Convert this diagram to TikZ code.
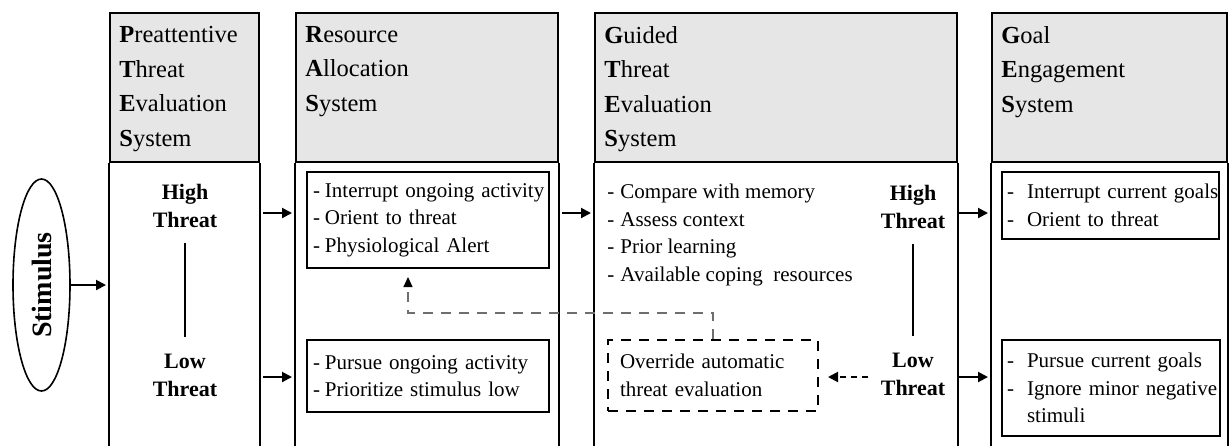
\documentclass[tikz,border=0pt]{standalone}
\usepackage{fontspec}
\setmainfont{Liberation Serif}
\usepackage{graphicx}
\usetikzlibrary{shapes.geometric, arrows.meta, positioning}
\definecolor{headgray}{RGB}{230,230,230}
\definecolor{feedbackgray}{RGB}{110,110,110}
\newcommand{\itm}[2][6pt]{\mbox{\makebox[#1][l]{-}#2}}

\begin{document}
\begin{tikzpicture}[
    x=0.5pt, y=-0.5pt,
    headbox/.style={draw, line width=1pt, fill=headgray, inner sep=0pt, minimum height=74.5pt},
    headtext/.style={anchor=north west, inner sep=0pt, align=left, font=\fontsize{12.25}{17.25}\selectfont},
    colline/.style={line width=1pt},
    listbox/.style={draw, line width=1pt, inner xsep=3pt, inner ysep=0pt, align=left, font=\fontsize{10.5}{13.75}\selectfont},
    listtext/.style={inner xsep=3pt, inner ysep=0pt, align=left, font=\fontsize{10.5}{13.75}\selectfont},
    ovrbox/.style={listbox, dash pattern=on 5pt off 4pt, inner xsep=6pt},
    threat/.style={align=center, inner sep=2pt, font=\fontsize{11}{14}\selectfont\bfseries},
    stimnode/.style={draw, ellipse, line width=0.8pt, minimum width=28.5pt, minimum height=106pt, inner sep=0pt, font=\fontsize{14}{16}\selectfont\bfseries},
    arrow/.style={-{Triangle[length=5pt, width=5pt]}, line width=1pt, shorten <=1.5pt, shorten >=1.5pt},
    dasharrow/.style={arrow, dash pattern=on 3pt off 2.5pt},
    fbarrow/.style={-{Triangle[length=5pt, width=4.5pt, color=black]}, feedbackgray, line width=0.6pt, dash pattern=on 5pt off 4pt}
]
    \useasboundingbox (0,0) rectangle (1229,446);
    \coordinate (bot) at (0,446);
    \coordinate (hiY) at (0,213);
    \coordinate (loY) at (0,377);
    \coordinate (fbY) at (0,313);

    % Stimulus
    \node[stimnode] (stim) at (41.5,285) {\rotatebox{90}{Stimulus}};

    % Column headers
    \node[headbox, minimum width=74.5pt] (h1) at (184.5,87.5) {};
    \node[headbox, minimum width=131pt] (h2) at (427,87.5) {};
    \node[headbox, minimum width=181pt] (h3) at (776,87.5) {};
    \node[headbox, minimum width=117.5pt] (h4) at (1109.5,87.5) {};

    \node[headtext] (t1) at ([xshift=5pt, yshift=-7pt]h1.north west) {\textbf{P}reattentive\\\textbf{T}hreat\\\textbf{E}valuation\\\textbf{S}ystem};
    \node[headtext] (t2) at ([xshift=5pt, yshift=-7pt]h2.north west) {\textbf{R}esource\\\textbf{A}llocation\\\textbf{S}ystem};
    \node[headtext] (t3) at ([xshift=5pt, yshift=-7pt]h3.north west) {\textbf{G}uided\\\textbf{T}hreat\\\textbf{E}valuation\\\textbf{S}ystem};
    \node[headtext] (t4) at ([xshift=5pt, yshift=-7pt]h4.north west) {\textbf{G}oal\\\textbf{E}ngagement\\\textbf{S}ystem};

    % Column bodies (open at the bottom)
    \foreach \h in {h1,h2,h3,h4}
        \draw[colline] (\h.south west |- bot) -- (\h.south west) (\h.south east) -- (\h.south east |- bot);

    % Preattentive threat levels
    \node[threat] (hi1) at (185,206) {High\\Threat};
    \node[threat] (lo1) at (185,375) {Low\\Threat};
    \draw[line width=0.75pt, shorten <=5.5pt, shorten >=6pt] (hi1) -- (lo1);

    % Resource allocation
    \node[listbox, text width=115pt, minimum height=48pt] (ralhi) at (428,220) {\itm{Interrupt ongoing activity}\\\itm{Orient to threat}\\\itm{Physiological Alert}};
    \node[listbox, text width=115pt, minimum height=36pt] (rallo) at (428,376) {\itm{Pursue ongoing activity}\\\itm{Prioritize stimulus low}};

    % Guided threat evaluation
    \node[listtext, anchor=west] (gtelist) at (601,235) {\itm[6.5pt]{Compare with memory}\\\itm[6.5pt]{Assess context}\\\itm[6.5pt]{Prior learning}\\\itm[6.5pt]{Available coping\ \ resources}};
    \node[ovrbox, text width=93pt, minimum height=35.5pt] (ovr) at (713,375.5) {Override automatic\\threat evaluation};
    \node[threat] (hi3) at (913,207) {High\\Threat};
    \node[threat] (lo3) at (913,374) {Low\\Threat};
    \draw[line width=0.75pt, shorten <=5.5pt, shorten >=6pt] (hi3) -- (lo3);

    % Goal engagement
    \node[listbox, inner xsep=2.5pt, text width=103.5pt, minimum height=33.5pt] (geshi) at (1110.5,205.5) {\itm[10pt]{Interrupt current goals}\\\itm[10pt]{Orient to threat}};
    \node[listbox, inner xsep=2.5pt, text width=104pt, minimum height=48pt] (geslo) at (1111,388) {\itm[10pt]{Pursue current goals}\\\itm[10pt]{Ignore minor negative}\\\hspace*{10pt}stimuli};

    % Arrows
    \draw[arrow, shorten <=0pt] (stim) -- (stim -| h1.west);
    \draw[arrow] (h1.east |- hiY) -- (h2.west |- hiY);
    \draw[arrow] (h1.east |- loY) -- (h2.west |- loY);
    \draw[arrow] (h2.east |- hiY) -- (h3.west |- hiY);
    \draw[arrow, shorten <=0pt] (h3.east |- hiY) -- (h4.west |- hiY);
    \draw[arrow, shorten <=0pt] (h3.east |- loY) -- (h4.west |- loY);
    \draw[dasharrow, shorten <=4pt, shorten >=4.5pt] (lo3.west |- loY) -- (ovr.east |- loY);

    % Feedback to resource allocation
    \coordinate (fbX) at ([xshift=-10pt]ralhi.south);
    \draw[fbarrow, shorten >=4pt] (ovr.north) |- (fbX |- fbY) -- (fbX);
\end{tikzpicture}
\end{document}
